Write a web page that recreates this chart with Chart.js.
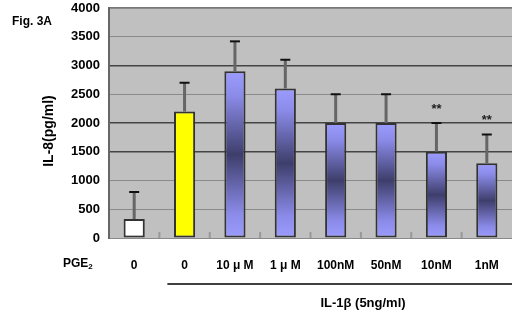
<!DOCTYPE html>
<html><head><meta charset="utf-8">
<script src="https://cdn.jsdelivr.net/npm/chart.js@4"></script>
<style>html,body{margin:0;padding:0;background:#fff;}#wrap{width:512px;height:320px;}</style>
</head><body><div id="wrap"><canvas id="c" width="512" height="320"></canvas></div>
<script>
const categories = ['0', '0', '10 μ M', '1 μ M', '100nM', '50nM', '10nM', '1nM'];
const meanValues = [330, 2200, 2900, 2600, 2000, 2000, 1500, 1300];
const sdValues = [470, 500, 520, 500, 500, 500, 500, 500];
const significance = ['', '', '', '', '', '', '**', '**'];
const yTicks = [0, 500, 1000, 1500, 2000, 2500, 3000, 3500, 4000];
const yTitle = 'IL-8(pg/ml)';
const groupTitle = 'IL-1β (5ng/ml)';

const FONT = '"Liberation Sans", Arial, sans-serif';

function barFill(ctx) {
  const i = ctx.dataIndex;
  if (i === 0) return '#ffffff';
  if (i === 1) return '#ffff00';
  const chart = ctx.chart;
  if (!chart.chartArea || !chart.scales.y) return '#9999ff';
  const y = chart.scales.y;
  const top = y.getPixelForValue(meanValues[i]);
  const bot = y.getPixelForValue(0);
  const g = chart.ctx.createLinearGradient(0, top, 0, bot);
  g.addColorStop(0, '#9c9cff');
  g.addColorStop(0.15, '#8a8ae8');
  g.addColorStop(0.5, '#3e3e6c');
  g.addColorStop(0.85, '#8a8ae8');
  g.addColorStop(1, '#9c9cff');
  return g;
}

const decor = {
  id: 'decor',
  beforeDraw(chart) {
    const {ctx, chartArea: a} = chart;
    ctx.save();
    ctx.fillStyle = '#c0c0c0';
    ctx.fillRect(a.left, a.top, a.right - a.left, a.bottom - a.top);
    ctx.strokeStyle = '#777';
    ctx.lineWidth = 2;
    ctx.beginPath();
    ctx.moveTo(a.left, a.top); ctx.lineTo(a.right, a.top);
    ctx.stroke();
    ctx.restore();
  },
  afterDatasetsDraw(chart) {
    const {ctx, chartArea: a} = chart;
    const x = chart.scales.x, y = chart.scales.y;
    ctx.save();
    ctx.strokeStyle = '#999';
    ctx.lineWidth = 2;
    for (let i = 0; i + 1 < categories.length; i++) {
      const xp = (x.getPixelForValue(i) + x.getPixelForValue(i + 1)) / 2;
      ctx.beginPath(); ctx.moveTo(xp, a.bottom); ctx.lineTo(xp, a.bottom - 6); ctx.stroke();
    }
    for (let i = 0; i < meanValues.length; i++) {
      const xp = x.getPixelForValue(i);
      const yt = y.getPixelForValue(meanValues[i]);
      const ye = y.getPixelForValue(meanValues[i] + sdValues[i]);
      ctx.strokeStyle = '#666';
      ctx.lineWidth = 3;
      ctx.beginPath(); ctx.moveTo(xp, yt); ctx.lineTo(xp, ye); ctx.stroke();
      ctx.strokeStyle = '#111';
      ctx.lineWidth = 2;
      ctx.beginPath(); ctx.moveTo(xp - 5, ye); ctx.lineTo(xp + 5, ye); ctx.stroke();
      if (significance[i]) {
        ctx.fillStyle = '#222';
        ctx.font = 'bold 13px ' + FONT;
        ctx.textAlign = 'center';
        ctx.textBaseline = 'middle';
        ctx.fillText(significance[i], xp, ye - 14);
      }
    }
    ctx.restore();
  },
  afterDraw(chart) {
    const {ctx, chartArea: a} = chart;
    const x = chart.scales.x;
    ctx.save();
    ctx.fillStyle = '#000';
    ctx.font = 'bold 12px ' + FONT;
    ctx.textBaseline = 'middle';
    ctx.textAlign = 'left';
    ctx.fillText('Fig. 3A', 12, 22);
    ctx.fillText('PGE', 63, 264);
    const w = ctx.measureText('PGE').width;
    ctx.font = 'bold 8px ' + FONT;
    ctx.fillText('2', 63 + w, 267);
    const x1 = (x.getPixelForValue(1) + x.getPixelForValue(0)) / 2 + 8;
    ctx.strokeStyle = '#000';
    ctx.lineWidth = 1.5;
    ctx.beginPath(); ctx.moveTo(x1, 284); ctx.lineTo(a.right, 284); ctx.stroke();
    ctx.font = 'bold 13px ' + FONT;
    ctx.textAlign = 'center';
    ctx.fillText(groupTitle, 363, 303);
    ctx.translate(49, 131);
    ctx.rotate(-Math.PI / 2);
    ctx.font = 'bold 14px ' + FONT;
    ctx.fillText(yTitle, 0, 0);
    ctx.restore();
  }
};

new Chart(document.getElementById('c'), {
  type: 'bar',
  data: {
    labels: categories,
    datasets: [{
      data: meanValues,
      backgroundColor: barFill,
      borderColor: '#333',
      borderWidth: 2,
      borderSkipped: false,
      barPercentage: 0.42,
      categoryPercentage: 1.0
    }]
  },
  options: {
    responsive: false,
    animation: false,
    devicePixelRatio: 1,
    layout: {padding: {top: 8, right: 0, left: 0, bottom: 0}},
    plugins: {legend: {display: false}, tooltip: {enabled: false}},
    scales: {
      x: {
        grid: {display: false, drawTicks: false},
        border: {display: false},
        ticks: {color: '#000', font: {family: FONT, size: 12, weight: 'bold'}, padding: 20, maxRotation: 0, autoSkip: false},
        afterFit(s) { s.height = 82; s.paddingLeft = 0; s.paddingRight = 0; }
      },
      y: {
        min: 0, max: 4000,
        afterBuildTicks(s) { s.ticks = yTicks.map(v => ({value: v})); },
        grid: {
          drawTicks: false,
          color(c) { const v = c.tick.value; return (v === 3000 || v === 2000 || v === 1500) ? '#444' : '#8a8a8a'; },
          lineWidth(c) { const v = c.tick.value; return (v === 3000 || v === 2000 || v === 1500) ? 1.5 : 1; }
        },
        border: {display: true, color: '#666', width: 2},
        ticks: {color: '#000', font: {family: FONT, size: 13, weight: 'bold'}, padding: 9, callback: v => String(v)},
        afterFit(s) { s.width = 109; s.paddingTop = 0; s.paddingBottom = 0; }
      }
    }
  },
  plugins: [decor]
});
</script>
</body></html>
